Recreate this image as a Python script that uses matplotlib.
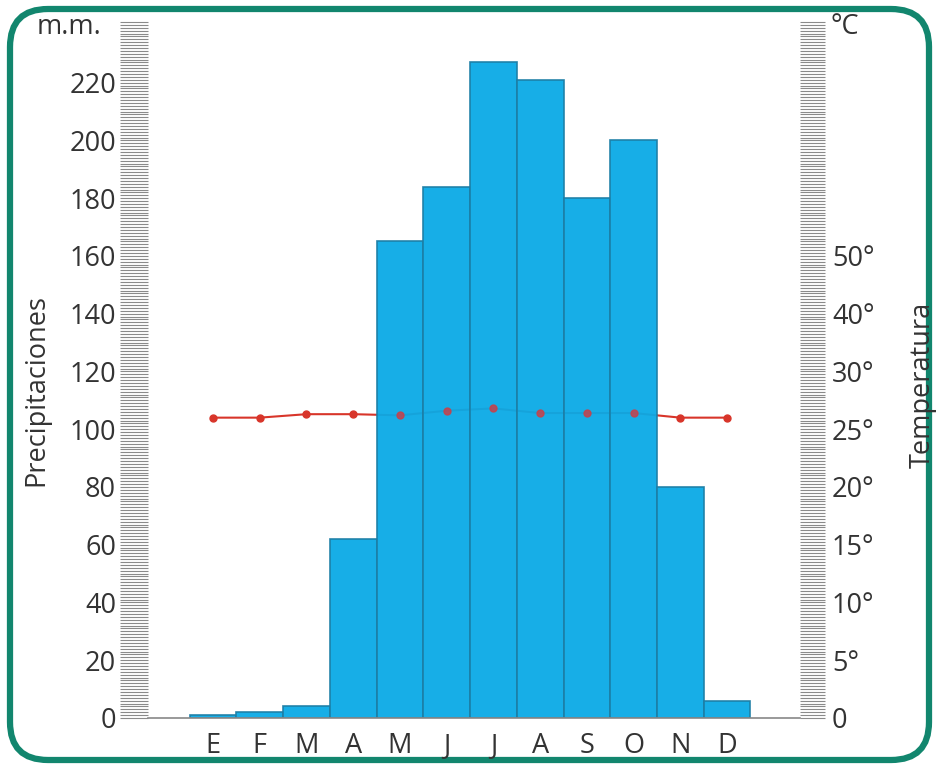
import matplotlib
matplotlib.use("Agg")
import matplotlib.pyplot as plt
from matplotlib.patches import FancyBboxPatch
from matplotlib.ticker import MultipleLocator, FixedLocator
import numpy as np

months = ["E", "F", "M", "A", "M", "J", "J", "A", "S", "O", "N", "D"]
precip = [1, 2, 4, 62, 165, 184, 227, 221, 180, 200, 80, 6]
temp = [26.0, 26.0, 26.3, 26.3, 26.2, 26.6, 26.8, 26.4, 26.4, 26.4, 26.0, 26.0]
precip_ticks = [0, 20, 40, 60, 80, 100, 120, 140, 160, 180, 200, 220]
# temperature labels, drawn on the precipitation scale (0..30 deg: 1 deg = 4 mm, then 10 deg per step)
temp_tick_pos = [0, 20, 40, 60, 80, 100, 120, 140, 160]
temp_tick_labels = ["0", "5°", "10°", "15°", "20°", "25°", "30°", "40°", "50°"]

plt.rcParams['font.family'] = ['Open Sans', 'DejaVu Sans']
W, H = 939, 764
fig = plt.figure(figsize=(W / 100, H / 100), dpi=100)
FS = 19.5
TXT = '#333333'

# frame
bg = fig.add_axes([0, 0, 1, 1])
bg.set_xlim(0, W)
bg.set_ylim(H, 0)
bg.axis('off')
frame = FancyBboxPatch((10, 9), W - 20, H - 13, boxstyle="round,pad=0,rounding_size=38",
                       fill=False, edgecolor='#12866e', linewidth=4.5)
bg.add_patch(frame)

ax = fig.add_axes([148 / W, 1 - 718 / H, (800 - 148) / W, (718 - 22) / H])
ax.patch.set_alpha(0)
x = np.arange(len(months))
ymax = 241
ax.set_ylim(0, ymax)
ax.set_xlim(-1.39, 12.56)

bar_face = '#0aaae6'
bar_edge = '#1d7ea6'
ax.bar(x, precip, width=1.0, color=bar_face, edgecolor=bar_edge, linewidth=1.2, zorder=2, alpha=0.95)

# temperature line (below 30 deg: 1 deg = 4 mm)
tP = [t * 4 for t in temp]
ax.plot(x, tP, color='#d8352a', linewidth=1.5, zorder=1.5)
inside = [p > tv for p, tv in zip(precip, tP)]
xo = [xi for xi, i in zip(x, inside) if not i]
yo = [v for v, i in zip(tP, inside) if not i]
xi_ = [xi for xi, i in zip(x, inside) if i]
yi_ = [v for v, i in zip(tP, inside) if i]
ax.plot(xo, yo, 'o', color='#d8352a', markersize=5, zorder=3)
ax.plot(xi_, yi_, 'o', color='#c8404a', markersize=5, zorder=3, alpha=0.85)

for s in ['top', 'left', 'right']:
    ax.spines[s].set_visible(False)
ax.spines['bottom'].set_color('#888888')
ax.spines['bottom'].set_linewidth(1.2)

ax.set_xticks(x)
ax.set_xticklabels(months, fontsize=FS, color=TXT)
ax.tick_params(axis='x', length=0, pad=10)

ax.yaxis.set_major_locator(FixedLocator(precip_ticks))
ax.yaxis.set_minor_locator(MultipleLocator(1))
ax.set_yticklabels([str(v) for v in precip_ticks], fontsize=FS, color=TXT)
ax.tick_params(axis='y', which='both', direction='out', length=20, width=0.8, color='#8a8a8a', pad=3)

ax2 = ax.twinx()
ax2.set_ylim(0, ymax)
for s in ['top', 'left', 'right', 'bottom']:
    ax2.spines[s].set_visible(False)
ax2.yaxis.set_major_locator(FixedLocator(temp_tick_pos))
ax2.yaxis.set_minor_locator(MultipleLocator(1))
ax2.set_yticklabels(temp_tick_labels, fontsize=FS, color=TXT)
ax2.tick_params(axis='y', which='both', direction='out', length=18, width=0.8, color='#8a8a8a', pad=5)

fig.text(69 / W, 1 - 27 / H, "m.m.", fontsize=FS, color=TXT, ha='center', va='center')
fig.text(845 / W, 1 - 27 / H, "°C", fontsize=FS, color=TXT, ha='center', va='center')
fig.text(36 / W, 1 - 390 / H, "Precipitaciones", fontsize=FS, color=TXT, ha='center', va='center', rotation=90)
fig.text(923 / W, 1 - 385 / H, "Temperatura", fontsize=FS, color=TXT, ha='center', va='center', rotation=90)

fig.savefig("out.png", dpi=100)
